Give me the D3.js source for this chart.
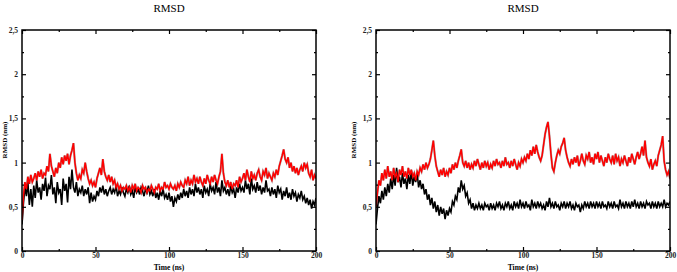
<!DOCTYPE html>
<html><head><meta charset="utf-8">
<script src="https://cdn.jsdelivr.net/npm/d3@7"></script>
<style>body{margin:0;background:#fff}svg{display:block}text{font-family:"Liberation Serif","DejaVu Serif",serif}</style>
</head><body><svg id="c" width="677" height="272"></svg>
<script>
const xTicks=[0,50,100,150,200];
const yTicks=[0,0.5,1,1.5,2,2.5];
const titles=["RMSD","RMSD"];
const xLabel="Time (ns)", yLabel="RMSD (nm)";
const leftBlack=[0.30,0.55,0.72,0.62,0.78,0.52,0.70,0.50,0.74,0.60,
0.80,0.66,0.72,0.58,0.76,0.68,0.83,0.62,0.74,0.70,
0.86,0.64,0.72,0.54,0.78,0.66,0.70,0.52,0.82,0.68,
0.76,0.55,0.84,0.70,0.92,0.72,0.66,0.78,0.62,0.70,
0.66,0.74,0.62,0.70,0.64,0.72,0.54,0.66,0.56,0.62,
0.58,0.68,0.62,0.72,0.66,0.74,0.64,0.70,0.62,0.68,
0.72,0.64,0.70,0.66,0.74,0.62,0.68,0.64,0.72,0.66,
0.62,0.70,0.66,0.74,0.64,0.68,0.60,0.72,0.66,0.70,
0.64,0.72,0.68,0.62,0.70,0.66,0.74,0.64,0.68,0.62,
0.70,0.60,0.66,0.58,0.68,0.62,0.70,0.60,0.64,0.58,
0.66,0.56,0.62,0.50,0.60,0.56,0.64,0.58,0.66,0.60,
0.70,0.62,0.68,0.60,0.72,0.64,0.70,0.62,0.76,0.66,
0.72,0.64,0.70,0.60,0.74,0.66,0.70,0.62,0.76,0.68,
0.72,0.64,0.78,0.66,0.72,0.62,0.80,0.68,0.72,0.64,
0.70,0.62,0.74,0.66,0.70,0.60,0.72,0.66,0.76,0.68,
0.72,0.66,0.80,0.70,0.76,0.64,0.82,0.70,0.74,0.66,
0.78,0.68,0.74,0.64,0.72,0.66,0.80,0.68,0.70,0.62,
0.72,0.64,0.70,0.60,0.74,0.66,0.70,0.58,0.68,0.62,
0.72,0.60,0.66,0.58,0.70,0.62,0.66,0.56,0.64,0.60,
0.68,0.58,0.62,0.54,0.60,0.52,0.58,0.48,0.56,0.52,0.60];
const leftRed=[0.35,0.62,0.78,0.70,0.84,0.76,0.86,0.78,0.82,0.88,
0.80,0.90,0.84,0.92,0.82,0.88,0.86,0.96,0.90,1.10,
0.96,0.90,0.84,0.94,0.88,1.00,0.94,1.06,0.98,1.08,
1.02,1.10,0.98,1.08,1.14,1.22,1.00,0.88,0.80,0.86,
0.82,0.92,0.88,1.00,0.90,0.82,0.76,0.80,0.74,0.78,
0.72,0.82,0.88,0.94,0.86,1.04,0.90,0.84,0.80,0.86,
0.78,0.84,0.76,0.80,0.72,0.76,0.70,0.74,0.68,0.72,
0.70,0.74,0.68,0.72,0.66,0.74,0.70,0.76,0.68,0.72,
0.70,0.66,0.74,0.70,0.72,0.66,0.70,0.68,0.74,0.70,
0.66,0.72,0.70,0.76,0.68,0.72,0.70,0.78,0.72,0.74,
0.70,0.76,0.72,0.70,0.74,0.68,0.76,0.72,0.78,0.74,
0.72,0.80,0.76,0.84,0.74,0.80,0.76,0.86,0.78,0.82,
0.76,0.84,0.78,0.74,0.82,0.76,0.86,0.80,0.76,0.84,
0.78,0.86,0.80,0.76,0.84,0.90,1.10,0.88,0.78,0.74,
0.80,0.72,0.78,0.70,0.76,0.74,0.80,0.72,0.84,0.78,
0.82,0.88,0.80,0.92,0.84,0.78,0.90,0.82,0.86,0.80,
0.88,0.92,0.84,0.80,0.90,0.86,0.94,0.82,0.88,0.84,
0.80,0.88,0.84,0.92,0.86,0.96,1.02,1.08,1.15,1.04,
1.00,1.06,0.94,1.00,0.90,0.96,0.88,0.94,0.86,0.92,
0.96,0.90,1.00,0.94,0.98,0.88,0.84,0.92,0.80,0.86,0.82];
const rightBlack=[0.30,0.48,0.62,0.54,0.68,0.58,0.72,0.62,0.76,0.66,
0.82,0.70,0.86,0.74,0.94,0.78,0.84,0.72,0.88,0.76,
0.82,0.70,0.86,0.76,0.90,0.74,0.84,0.78,0.88,0.72,
0.80,0.70,0.76,0.64,0.70,0.58,0.64,0.52,0.60,0.48,
0.56,0.44,0.52,0.40,0.50,0.42,0.48,0.36,0.46,0.40,
0.48,0.44,0.56,0.52,0.62,0.58,0.72,0.66,0.80,0.70,
0.74,0.62,0.66,0.54,0.58,0.48,0.54,0.46,0.52,0.48,
0.54,0.48,0.52,0.46,0.54,0.50,0.52,0.46,0.54,0.48,
0.52,0.46,0.54,0.50,0.56,0.48,0.52,0.46,0.54,0.50,
0.56,0.48,0.52,0.46,0.56,0.50,0.54,0.48,0.58,0.50,
0.54,0.48,0.56,0.50,0.52,0.46,0.58,0.50,0.54,0.48,
0.56,0.50,0.54,0.48,0.52,0.46,0.56,0.50,0.60,0.50,
0.54,0.48,0.56,0.50,0.52,0.46,0.54,0.50,0.56,0.48,
0.54,0.50,0.56,0.48,0.52,0.46,0.54,0.50,0.52,0.44,
0.52,0.48,0.56,0.50,0.54,0.48,0.56,0.50,0.54,0.48,
0.56,0.50,0.54,0.48,0.56,0.50,0.52,0.48,0.56,0.50,
0.54,0.48,0.56,0.50,0.52,0.48,0.58,0.50,0.54,0.48,
0.56,0.50,0.54,0.48,0.56,0.50,0.58,0.50,0.54,0.48,
0.56,0.50,0.54,0.48,0.56,0.52,0.54,0.48,0.56,0.50,
0.54,0.48,0.56,0.50,0.54,0.50,0.58,0.50,0.54,0.52,0.56];
const rightRed=[0.50,0.66,0.80,0.74,0.88,0.80,0.92,0.82,0.96,0.84,
0.90,0.80,0.94,0.84,0.88,0.78,0.92,0.86,0.96,0.84,
0.90,0.82,0.94,0.86,0.92,0.84,0.88,0.80,0.90,0.86,
0.94,0.90,0.98,0.92,1.00,0.94,0.98,1.04,1.14,1.25,
1.08,0.96,0.90,0.84,0.92,0.86,0.94,0.84,0.90,0.86,
0.94,0.88,0.98,0.92,1.00,0.94,1.02,1.08,1.15,1.00,
0.96,1.02,0.94,1.00,0.92,0.98,0.94,1.02,0.96,1.04,
0.98,0.92,1.00,0.94,1.02,0.96,1.00,0.92,0.98,0.94,
1.02,0.96,1.04,0.98,1.00,0.94,1.02,0.96,1.06,0.98,
1.00,0.94,1.02,0.96,1.04,0.98,0.92,1.00,0.96,1.04,
1.00,1.06,1.02,1.10,1.04,1.14,1.08,1.18,1.10,1.20,
1.12,1.06,1.02,1.08,1.20,1.32,1.40,1.46,1.30,1.10,
0.94,0.90,1.00,1.08,1.14,1.10,1.18,1.22,1.28,1.14,
1.06,1.00,0.96,1.04,0.98,1.06,1.00,1.08,0.96,1.02,
1.10,1.02,0.98,1.08,1.04,1.12,1.00,1.06,0.98,1.10,
1.04,1.12,1.00,1.08,1.02,0.96,1.06,1.00,1.10,1.04,
1.00,1.08,0.98,1.10,1.02,1.06,0.96,1.04,1.00,1.08,
1.02,0.96,1.06,1.00,1.10,1.04,0.98,1.06,1.12,1.04,
1.10,1.18,1.08,1.25,1.06,1.00,0.96,1.04,0.92,0.98,
1.02,0.96,1.08,1.14,1.20,1.30,1.02,0.92,0.86,0.90,0.82];

const svg=d3.select("#c");
const panels=[
 {x0:22,x1:316,black:leftBlack,red:leftRed,title:titles[0],ylx:7},
 {x0:376,x1:670,black:rightBlack,red:rightRed,title:titles[1],ylx:356}
];
const y0=251,y1=30;
const fmt=v=>String(v).replace(".",",");
panels.forEach(p=>{
 const x=d3.scaleLinear().domain([0,200]).range([p.x0,p.x1]);
 const y=d3.scaleLinear().domain([0,2.5]).range([y0,y1]);
 const g=svg.append("g");
 const line=d3.line().x((d,i)=>x(i)).y(d=>y(d));
 const clip="clip"+p.x0;
 svg.append("clipPath").attr("id",clip).append("rect").attr("x",p.x0).attr("y",y1).attr("width",p.x1-p.x0).attr("height",y0-y1);
 g.append("path").datum(p.black).attr("d",line).attr("fill","none").attr("stroke","#000").attr("stroke-width",1.6).attr("clip-path",`url(#${clip})`);
 g.append("path").datum(p.red).attr("d",line).attr("fill","none").attr("stroke","#1a0000").attr("stroke-width",2.2).attr("stroke-opacity",0.35).attr("clip-path",`url(#${clip})`);
 g.append("path").datum(p.red).attr("d",line).attr("fill","none").attr("stroke","#f00").attr("stroke-width",1.5).attr("clip-path",`url(#${clip})`);
 const minorX=d3.range(25,200,50), minorY=d3.range(0.25,2.5,0.5);
 const mk=(axis,tr)=>{const a=g.append("g").attr("transform",tr).call(axis);a.select(".domain").remove();a.selectAll("line").attr("stroke","#000").attr("stroke-width",1.2);return a;};
 mk(d3.axisBottom(x).tickValues(xTicks).tickSize(-4).tickPadding(2).tickFormat(d=>d),`translate(0,${y0})`);
 mk(d3.axisBottom(x).tickValues(minorX).tickSize(-2).tickFormat(""),`translate(0,${y0})`);
 mk(d3.axisTop(x).tickValues(xTicks).tickSize(-4).tickFormat(""),`translate(0,${y1})`);
 mk(d3.axisTop(x).tickValues(minorX).tickSize(-2).tickFormat(""),`translate(0,${y1})`);
 mk(d3.axisLeft(y).tickValues(yTicks).tickSize(-4).tickPadding(4).tickFormat(fmt),`translate(${p.x0},0)`);
 mk(d3.axisLeft(y).tickValues(minorY).tickSize(-2).tickFormat(""),`translate(${p.x0},0)`);
 mk(d3.axisRight(y).tickValues(yTicks).tickSize(-4).tickFormat(""),`translate(${p.x1},0)`);
 mk(d3.axisRight(y).tickValues(minorY).tickSize(-2).tickFormat(""),`translate(${p.x1},0)`);
 g.selectAll(".tick text").attr("font-family","Liberation Serif").attr("font-size",7.5).attr("font-weight","bold").attr("fill","#222");
 g.append("rect").attr("x",p.x0).attr("y",y1).attr("width",p.x1-p.x0).attr("height",y0-y1).attr("fill","none").attr("stroke","#000").attr("stroke-width",1.5);
 g.append("text").attr("x",(p.x0+p.x1)/2).attr("y",12).attr("text-anchor","middle").attr("font-size",11).text(p.title);
 g.append("text").attr("x",(p.x0+p.x1)/2).attr("y",270).attr("text-anchor","middle").attr("font-size",7.5).attr("font-weight","bold").text(xLabel);
 g.append("text").attr("transform",`translate(${p.ylx},${140}) rotate(-90)`).attr("text-anchor","middle").attr("font-size",7).attr("font-weight","bold").text(yLabel);
});
</script></body></html>
